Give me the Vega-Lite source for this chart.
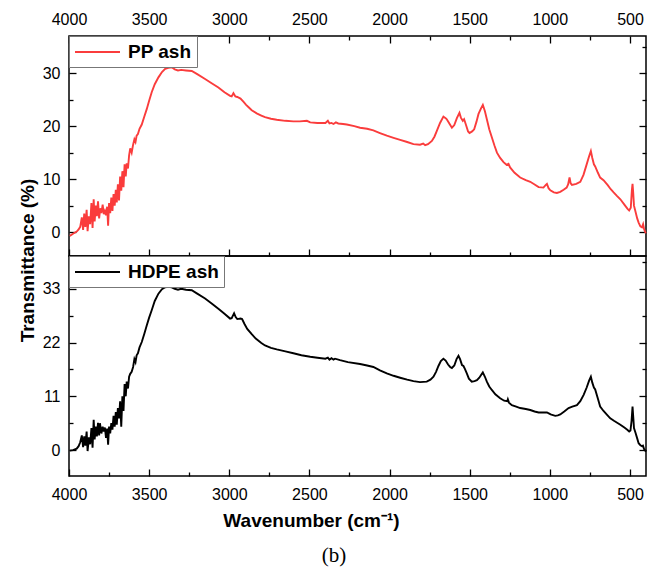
{
  "$schema": "https://vega.github.io/schema/vega-lite/v6.json",
  "padding": {"left": 17, "top": 7, "right": 2, "bottom": 5},
  "background": "white",
  "bounds": "flush",
  "spacing": 0,
  "config": {
    "view": {"stroke": "#000", "strokeWidth": 1.5},
    "axis": {"domain": false, "grid": false, "labelFont": "Liberation Sans", "labelFontSize": 16, "labelColor": "#000", "tickColor": "#000", "tickWidth": 1.3, "titleFont": "Liberation Sans", "titleFontSize": 19, "titleFontWeight": "bold", "titleColor": "#000", "labelFlush": false, "labelOverlap": false},
    "legend": {"orient": "top-left", "offset": 0, "padding": 5, "strokeColor": "#777", "fillColor": "#fff", "symbolType": "M-1,0H3.5", "symbolSize": 400, "symbolStrokeWidth": 2, "labelFont": "Liberation Sans", "labelFontSize": 19, "labelFontWeight": "bold", "labelColor": "#000", "labelOffset": 32}
  },
  "title": {"text": "(b)", "orient": "bottom", "font": "Liberation Serif", "fontSize": 21, "fontWeight": "normal", "color": "#000", "offset": 14, "anchor": "middle"},
  "datasets": {
    "pp": [
      {"w":3995,"t":-0.7},{"w":3975,"t":-0.3},{"w":3952,"t":0.1},{"w":3940,"t":0.5},{"w":3930,"t":1.0},{"w":3920,"t":2.8},{"w":3912,"t":0.4},{"w":3905,"t":3.5},{"w":3898,"t":1.0},{"w":3890,"t":4.2},{"w":3884,"t":0.2},{"w":3876,"t":3.0},{"w":3868,"t":1.5},{"w":3860,"t":5.5},{"w":3853,"t":0.8},{"w":3846,"t":6.2},{"w":3840,"t":2.0},{"w":3833,"t":5.0},{"w":3826,"t":3.0},{"w":3819,"t":5.8},{"w":3812,"t":2.6},{"w":3805,"t":4.5},{"w":3798,"t":3.6},{"w":3790,"t":5.2},{"w":3783,"t":3.4},{"w":3776,"t":4.0},{"w":3769,"t":3.2},{"w":3762,"t":4.8},{"w":3756,"t":1.2},{"w":3750,"t":5.5},{"w":3743,"t":3.6},{"w":3736,"t":6.5},{"w":3729,"t":4.0},{"w":3722,"t":7.2},{"w":3715,"t":5.0},{"w":3708,"t":8.0},{"w":3702,"t":5.6},{"w":3695,"t":9.0},{"w":3688,"t":6.0},{"w":3681,"t":10.5},{"w":3674,"t":7.8},{"w":3667,"t":11.5},{"w":3660,"t":8.5},{"w":3653,"t":12.8},{"w":3646,"t":10.5},{"w":3640,"t":13.0},{"w":3632,"t":12.0},{"w":3625,"t":14.5},{"w":3618,"t":15.8},{"w":3609,"t":15.0},{"w":3600,"t":16.5},{"w":3592,"t":17.5},{"w":3585,"t":17.0},{"w":3578,"t":18.2},{"w":3570,"t":18.5},{"w":3560,"t":19.5},{"w":3546,"t":20.3},{"w":3530,"t":21.8},{"w":3515,"t":23.2},{"w":3500,"t":24.8},{"w":3484,"t":26.4},{"w":3465,"t":27.9},{"w":3442,"t":29.2},{"w":3420,"t":30.2},{"w":3400,"t":30.8},{"w":3380,"t":31.0},{"w":3359,"t":31.1},{"w":3340,"t":30.7},{"w":3320,"t":30.5},{"w":3300,"t":30.6},{"w":3270,"t":30.5},{"w":3234,"t":30.4},{"w":3200,"t":29.8},{"w":3151,"t":28.9},{"w":3110,"t":28.1},{"w":3068,"t":27.3},{"w":3030,"t":26.4},{"w":2995,"t":25.7},{"w":2985,"t":25.6},{"w":2974,"t":26.2},{"w":2962,"t":25.6},{"w":2950,"t":25.5},{"w":2930,"t":25.2},{"w":2912,"t":24.6},{"w":2895,"t":24.0},{"w":2881,"t":23.6},{"w":2860,"t":23.0},{"w":2829,"t":22.4},{"w":2800,"t":22.0},{"w":2777,"t":21.7},{"w":2740,"t":21.4},{"w":2704,"t":21.2},{"w":2650,"t":21.0},{"w":2600,"t":20.9},{"w":2560,"t":20.9},{"w":2516,"t":21.0},{"w":2495,"t":20.7},{"w":2450,"t":20.6},{"w":2400,"t":20.6},{"w":2385,"t":21.0},{"w":2375,"t":20.5},{"w":2362,"t":20.6},{"w":2350,"t":20.4},{"w":2335,"t":20.7},{"w":2320,"t":20.5},{"w":2290,"t":20.4},{"w":2267,"t":20.3},{"w":2220,"t":20.0},{"w":2184,"t":19.7},{"w":2140,"t":19.5},{"w":2101,"t":19.2},{"w":2060,"t":18.7},{"w":2017,"t":18.2},{"w":1975,"t":17.8},{"w":1934,"t":17.4},{"w":1890,"t":17.0},{"w":1851,"t":16.6},{"w":1810,"t":16.5},{"w":1790,"t":16.7},{"w":1778,"t":16.4},{"w":1760,"t":16.6},{"w":1736,"t":17.2},{"w":1720,"t":18.0},{"w":1705,"t":19.1},{"w":1685,"t":20.6},{"w":1664,"t":21.8},{"w":1650,"t":21.5},{"w":1643,"t":21.3},{"w":1625,"t":20.4},{"w":1611,"t":19.7},{"w":1596,"t":20.2},{"w":1580,"t":21.5},{"w":1564,"t":22.5},{"w":1555,"t":21.6},{"w":1543,"t":21.0},{"w":1535,"t":21.3},{"w":1525,"t":20.4},{"w":1510,"t":19.0},{"w":1501,"t":18.7},{"w":1485,"t":19.0},{"w":1472,"t":19.4},{"w":1458,"t":20.8},{"w":1445,"t":22.3},{"w":1430,"t":23.3},{"w":1418,"t":24.0},{"w":1405,"t":22.8},{"w":1393,"t":21.3},{"w":1378,"t":19.4},{"w":1362,"t":17.9},{"w":1345,"t":16.3},{"w":1330,"t":15.0},{"w":1310,"t":14.0},{"w":1289,"t":13.2},{"w":1270,"t":12.7},{"w":1258,"t":12.9},{"w":1248,"t":12.2},{"w":1220,"t":11.2},{"w":1185,"t":10.3},{"w":1150,"t":9.8},{"w":1122,"t":9.5},{"w":1095,"t":9.0},{"w":1070,"t":8.5},{"w":1040,"t":8.4},{"w":1025,"t":8.9},{"w":1018,"t":9.1},{"w":1008,"t":8.3},{"w":997,"t":7.9},{"w":975,"t":7.5},{"w":956,"t":7.4},{"w":935,"t":7.6},{"w":914,"t":8.0},{"w":895,"t":8.4},{"w":886,"t":9.0},{"w":877,"t":10.3},{"w":870,"t":9.2},{"w":862,"t":8.9},{"w":835,"t":9.1},{"w":810,"t":9.5},{"w":790,"t":10.8},{"w":773,"t":12.5},{"w":755,"t":14.3},{"w":744,"t":15.3},{"w":735,"t":14.0},{"w":725,"t":12.8},{"w":717,"t":12.4},{"w":700,"t":11.2},{"w":686,"t":10.3},{"w":665,"t":9.8},{"w":640,"t":8.9},{"w":620,"t":8.1},{"w":602,"t":7.5},{"w":580,"t":6.8},{"w":560,"t":6.2},{"w":535,"t":5.2},{"w":515,"t":4.4},{"w":505,"t":4.1},{"w":495,"t":4.6},{"w":488,"t":8.0},{"w":484,"t":9.1},{"w":480,"t":7.5},{"w":475,"t":5.0},{"w":465,"t":3.8},{"w":455,"t":2.6},{"w":446,"t":1.8},{"w":435,"t":1.1},{"w":425,"t":0.9},{"w":418,"t":1.5},{"w":412,"t":0.6},{"w":405,"t":0.0},{"w":400,"t":-0.2}
    ],
    "hdpe": [
      {"w":3995,"t":-0.1},{"w":3975,"t":0.0},{"w":3952,"t":0.3},{"w":3940,"t":0.8},{"w":3930,"t":1.6},{"w":3920,"t":3.0},{"w":3912,"t":0.6},{"w":3905,"t":2.8},{"w":3898,"t":0.9},{"w":3890,"t":3.8},{"w":3884,"t":-0.2},{"w":3876,"t":2.6},{"w":3868,"t":1.2},{"w":3860,"t":4.5},{"w":3853,"t":0.5},{"w":3846,"t":6.2},{"w":3840,"t":2.2},{"w":3833,"t":4.8},{"w":3826,"t":2.8},{"w":3819,"t":5.6},{"w":3812,"t":3.0},{"w":3807,"t":5.5},{"w":3798,"t":3.4},{"w":3790,"t":4.8},{"w":3783,"t":3.8},{"w":3776,"t":4.6},{"w":3769,"t":2.5},{"w":3762,"t":4.4},{"w":3756,"t":1.1},{"w":3750,"t":4.8},{"w":3743,"t":3.4},{"w":3736,"t":5.5},{"w":3729,"t":4.2},{"w":3722,"t":7.0},{"w":3715,"t":4.8},{"w":3708,"t":7.8},{"w":3702,"t":5.2},{"w":3695,"t":8.6},{"w":3688,"t":6.5},{"w":3681,"t":10.0},{"w":3674,"t":4.8},{"w":3667,"t":11.0},{"w":3660,"t":8.0},{"w":3653,"t":13.5},{"w":3646,"t":11.0},{"w":3640,"t":14.0},{"w":3632,"t":12.6},{"w":3625,"t":15.0},{"w":3618,"t":15.6},{"w":3609,"t":16.0},{"w":3600,"t":17.0},{"w":3592,"t":18.6},{"w":3585,"t":18.0},{"w":3578,"t":19.4},{"w":3570,"t":19.8},{"w":3560,"t":21.0},{"w":3546,"t":22.1},{"w":3530,"t":23.8},{"w":3515,"t":25.5},{"w":3500,"t":27.1},{"w":3484,"t":28.6},{"w":3465,"t":30.5},{"w":3442,"t":32.0},{"w":3420,"t":32.9},{"w":3400,"t":33.3},{"w":3380,"t":33.4},{"w":3359,"t":33.3},{"w":3340,"t":33.0},{"w":3320,"t":32.8},{"w":3300,"t":33.0},{"w":3270,"t":32.8},{"w":3234,"t":32.7},{"w":3200,"t":32.0},{"w":3151,"t":31.0},{"w":3110,"t":30.0},{"w":3068,"t":28.9},{"w":3030,"t":27.9},{"w":2995,"t":26.9},{"w":2985,"t":27.0},{"w":2970,"t":28.0},{"w":2960,"t":27.2},{"w":2950,"t":26.8},{"w":2930,"t":26.9},{"w":2920,"t":26.8},{"w":2905,"t":25.8},{"w":2888,"t":24.8},{"w":2860,"t":23.7},{"w":2835,"t":22.8},{"w":2800,"t":21.9},{"w":2777,"t":21.4},{"w":2740,"t":20.9},{"w":2704,"t":20.6},{"w":2650,"t":20.2},{"w":2600,"t":19.8},{"w":2550,"t":19.4},{"w":2495,"t":19.1},{"w":2450,"t":18.9},{"w":2400,"t":18.7},{"w":2385,"t":18.9},{"w":2375,"t":18.5},{"w":2362,"t":18.8},{"w":2350,"t":18.5},{"w":2340,"t":18.7},{"w":2309,"t":18.4},{"w":2260,"t":18.0},{"w":2184,"t":17.6},{"w":2140,"t":17.3},{"w":2101,"t":17.0},{"w":2060,"t":16.3},{"w":2017,"t":15.7},{"w":1975,"t":15.2},{"w":1934,"t":14.8},{"w":1890,"t":14.4},{"w":1851,"t":14.1},{"w":1810,"t":13.9},{"w":1768,"t":14.0},{"w":1745,"t":14.4},{"w":1726,"t":15.0},{"w":1710,"t":16.0},{"w":1695,"t":17.2},{"w":1680,"t":18.2},{"w":1664,"t":18.7},{"w":1650,"t":18.3},{"w":1635,"t":17.5},{"w":1622,"t":17.0},{"w":1611,"t":16.8},{"w":1596,"t":17.3},{"w":1582,"t":18.6},{"w":1570,"t":19.3},{"w":1560,"t":18.6},{"w":1548,"t":17.4},{"w":1539,"t":17.2},{"w":1530,"t":16.6},{"w":1518,"t":15.7},{"w":1505,"t":14.6},{"w":1487,"t":14.0},{"w":1470,"t":14.1},{"w":1455,"t":14.3},{"w":1440,"t":14.8},{"w":1428,"t":15.4},{"w":1418,"t":15.9},{"w":1405,"t":15.0},{"w":1393,"t":14.0},{"w":1378,"t":13.0},{"w":1362,"t":12.3},{"w":1340,"t":11.4},{"w":1310,"t":10.6},{"w":1285,"t":10.1},{"w":1266,"t":10.0},{"w":1262,"t":10.4},{"w":1255,"t":9.7},{"w":1237,"t":9.2},{"w":1210,"t":8.9},{"w":1185,"t":8.6},{"w":1150,"t":8.4},{"w":1122,"t":8.2},{"w":1095,"t":7.9},{"w":1070,"t":7.7},{"w":1040,"t":7.7},{"w":1018,"t":7.7},{"w":995,"t":7.3},{"w":966,"t":7.0},{"w":950,"t":7.1},{"w":935,"t":7.3},{"w":910,"t":7.9},{"w":883,"t":8.6},{"w":860,"t":8.9},{"w":831,"t":9.2},{"w":810,"t":10.0},{"w":789,"t":11.3},{"w":770,"t":12.8},{"w":755,"t":14.2},{"w":744,"t":15.0},{"w":735,"t":13.8},{"w":725,"t":12.8},{"w":717,"t":12.4},{"w":700,"t":10.5},{"w":686,"t":8.9},{"w":665,"t":8.0},{"w":640,"t":7.1},{"w":623,"t":6.5},{"w":600,"t":6.0},{"w":580,"t":5.6},{"w":560,"t":5.2},{"w":535,"t":4.6},{"w":515,"t":4.1},{"w":505,"t":3.8},{"w":497,"t":4.0},{"w":490,"t":6.0},{"w":484,"t":8.9},{"w":479,"t":6.5},{"w":475,"t":4.5},{"w":465,"t":3.5},{"w":455,"t":2.4},{"w":446,"t":1.4},{"w":435,"t":1.0},{"w":425,"t":0.8},{"w":419,"t":0.9},{"w":412,"t":0.2},{"w":405,"t":-0.1},{"w":400,"t":-0.3}
    ]
  },
  "resolve": {"scale": {"color": "independent", "x": "independent", "y": "independent"}, "legend": {"color": "independent"}},
  "vconcat": [
    {
      "width": 577,
      "height": 220,
      "data": {"name": "pp"},
      "layer": [
        {
          "mark": {"type": "line", "strokeWidth": 1.9},
          "encoding": {
            "x": {"field": "w", "type": "quantitative", "scale": {"domain": [400, 4000], "reverse": true, "nice": false, "zero": false},
              "axis": {"orient": "top", "title": null, "values": [500,750,1000,1250,1500,1750,2000,2250,2500,2750,3000,3250,3500,3750,4000], "format": "d", "labelExpr": "datum.value % 500 === 0 ? datum.label : ''", "tickSize": {"condition": {"test": "datum.value % 500 === 0", "value": -7}, "value": -4}, "labelPadding": 16}},
            "y": {"field": "t", "type": "quantitative", "scale": {"domain": [-4.5, 37], "nice": false, "zero": false},
              "axis": {"orient": "left", "title": null, "values": [0,5,10,15,20,25,30,35], "format": "d", "labelExpr": "datum.value % 10 === 0 ? datum.label : ''", "tickSize": {"condition": {"test": "datum.value % 10 === 0", "value": -7}, "value": -4}, "labelPadding": 16}},
            "color": {"datum": "PP ash", "scale": {"range": ["#fa3c3c"]}, "legend": {"title": null}}
          }
        },
        {
          "mark": {"type": "line", "strokeOpacity": 0},
          "encoding": {
            "x": {"field": "w", "type": "quantitative", "scale": {"domain": [400, 4000], "reverse": true, "nice": false, "zero": false},
              "axis": {"orient": "bottom", "title": null, "labels": false, "values": [500,750,1000,1250,1500,1750,2000,2250,2500,2750,3000,3250,3500,3750,4000], "tickSize": {"condition": {"test": "datum.value % 500 === 0", "value": -7}, "value": -4}}},
            "y": {"field": "t", "type": "quantitative", "scale": {"domain": [-4.5, 37], "nice": false, "zero": false},
              "axis": {"orient": "right", "title": null, "labels": false, "values": [0,5,10,15,20,25,30,35], "tickSize": {"condition": {"test": "datum.value % 10 === 0", "value": -7}, "value": -4}}}
          }
        }
      ],
      "resolve": {"scale": {"x": "independent", "y": "independent"}}
    },
    {
      "width": 577,
      "height": 220,
      "data": {"name": "hdpe"},
      "layer": [
        {
          "mark": {"type": "line", "strokeWidth": 1.9},
          "encoding": {
            "x": {"field": "w", "type": "quantitative", "scale": {"domain": [400, 4000], "reverse": true, "nice": false, "zero": false},
              "axis": {"orient": "bottom", "title": "Wavenumber (cm⁻¹)", "titleX": 242, "titleAlign": "center", "titlePadding": 6, "values": [500,750,1000,1250,1500,1750,2000,2250,2500,2750,3000,3250,3500,3750,4000], "format": "d", "labelExpr": "datum.value % 500 === 0 ? datum.label : ''", "tickSize": {"condition": {"test": "datum.value % 500 === 0", "value": -7}, "value": -4}, "labelPadding": 17}},
            "y": {"field": "t", "type": "quantitative", "scale": {"domain": [-5.3, 39.7], "nice": false, "zero": false},
              "axis": {"orient": "left", "title": "Transmittance (%)", "titleY": 4, "titlePadding": 5, "values": [0,5.5,11,16.5,22,27.5,33,38.5], "labelExpr": "datum.value % 11 === 0 ? datum.label : ''", "tickSize": {"condition": {"test": "datum.value % 11 === 0", "value": -7}, "value": -4}, "labelPadding": 16}},
            "color": {"datum": "HDPE ash", "scale": {"range": ["#000000"]}, "legend": {"title": null}}
          }
        },
        {
          "mark": {"type": "line", "strokeOpacity": 0},
          "encoding": {
            "x": {"field": "w", "type": "quantitative", "scale": {"domain": [400, 4000], "reverse": true, "nice": false, "zero": false}, "axis": null},
            "y": {"field": "t", "type": "quantitative", "scale": {"domain": [-5.3, 39.7], "nice": false, "zero": false},
              "axis": {"orient": "right", "title": null, "labels": false, "values": [0,5.5,11,16.5,22,27.5,33,38.5], "tickSize": {"condition": {"test": "datum.value % 11 === 0", "value": -7}, "value": -4}}}
          }
        }
      ],
      "resolve": {"scale": {"x": "independent", "y": "independent"}}
    }
  ]
}
